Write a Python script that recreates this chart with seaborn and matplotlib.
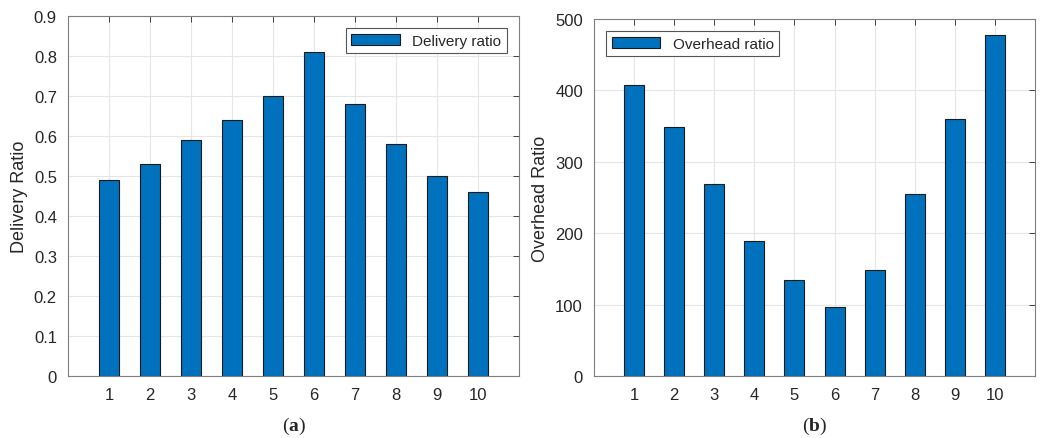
import matplotlib
matplotlib.use('Agg')
import matplotlib.pyplot as plt
import seaborn as sns
import pandas as pd

nodes = [1, 2, 3, 4, 5, 6, 7, 8, 9, 10]
delivery = [0.49, 0.53, 0.59, 0.64, 0.70, 0.81, 0.68, 0.58, 0.50, 0.46]
overhead = [408, 349, 269, 189, 134, 96, 148, 255, 360, 478]

sns.set_style('whitegrid')
plt.rcParams['font.family'] = ['Liberation Sans', 'DejaVu Sans']
plt.rcParams['xtick.direction'] = 'in'
plt.rcParams['ytick.direction'] = 'in'
plt.rcParams['mathtext.fontset'] = 'custom'
plt.rcParams['mathtext.rm'] = 'Liberation Serif'
plt.rcParams['mathtext.bf'] = 'Liberation Serif:bold'

bar_color = '#0072BD'
axis_color = '#262626'

df = pd.DataFrame({'node': nodes, 'delivery': delivery, 'overhead': overhead})

fig = plt.figure(figsize=(10.53, 4.39), dpi=100)
ax1 = fig.add_axes([68 / 1053, 1 - 377 / 439, 451 / 1053, 360 / 439])
ax2 = fig.add_axes([594 / 1053, 1 - 377 / 439, 441 / 1053, 357 / 439])


def draw(ax, col, label, ylabel, ylim, yticks, yfmt, loc):
    sns.barplot(data=df, x='node', y=col, ax=ax, color=bar_color, width=0.5,
                saturation=1, edgecolor='#1a1a1a', linewidth=0.8, label=label)
    ax.set_xlim(-1, 10)
    ax.set_ylim(*ylim)
    ax.set_yticks(yticks)
    ax.set_yticklabels([yfmt(v) for v in yticks])
    ax.set_xticks(range(len(nodes)))
    ax.set_xticklabels([str(n) for n in nodes])
    ax.set_xlabel('')
    ax.set_ylabel(ylabel, fontsize=13, color=axis_color)
    ax.tick_params(labelsize=12, colors=axis_color, top=True, right=True,
                   length=4, width=0.6, pad=8)
    ax.grid(True, color='#e6e6e6', linewidth=0.8)
    ax.set_axisbelow(True)
    for s in ax.spines.values():
        s.set_color('#7f7f7f')
        s.set_linewidth(0.8)
    leg = ax.legend(loc=loc, fontsize=11, fancybox=False, framealpha=1,
                    edgecolor='#555555', handlelength=3.2, borderpad=0.35,
                    borderaxespad=0.8)
    leg.get_frame().set_linewidth(0.8)


draw(ax1, 'delivery', 'Delivery ratio', 'Delivery Ratio', (0, 0.9),
     [i / 10 for i in range(10)], lambda v: '0' if v == 0 else f'{v:.1f}',
     'upper right')
draw(ax2, 'overhead', 'Overhead ratio', 'Overhead Ratio', (0, 500),
     [0, 100, 200, 300, 400, 500], lambda v: f'{v:d}', 'upper left')

fig.text(0.5 * (68 + 519) / 1053, 1 - 426 / 439, r'$(\mathbf{a})$', ha='center',
         va='center', fontsize=14)
fig.text(0.5 * (594 + 1035) / 1053, 1 - 426 / 439, r'$(\mathbf{b})$', ha='center',
         va='center', fontsize=14)

fig.savefig('out.png', dpi=100)
